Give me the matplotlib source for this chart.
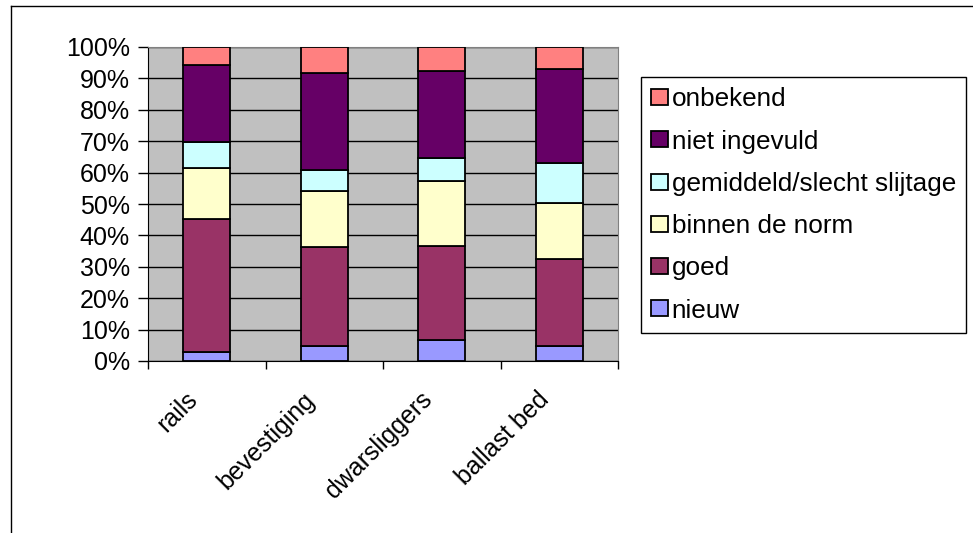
import matplotlib
matplotlib.use("Agg")
import matplotlib.pyplot as plt
from matplotlib.lines import Line2D
from matplotlib.transforms import ScaledTranslation
from matplotlib.ticker import FixedLocator, PercentFormatter
import numpy as np

plt.rcParams['font.family'] = ['Liberation Sans', 'DejaVu Sans']

categories = ["rails", "bevestiging", "dwarsliggers", "ballast bed"]
series = ["nieuw", "goed", "binnen de norm", "gemiddeld/slecht slijtage",
          "niet ingevuld", "onbekend"]
# percentages per category, stacked bottom to top
nieuw = [3.0, 4.8, 6.8, 4.8]
goed = [42.2, 31.4, 29.9, 27.6]
binnen_de_norm = [16.4, 17.8, 20.5, 17.9]
gemiddeld_slecht = [8.3, 6.9, 7.6, 12.6]
niet_ingevuld = [24.3, 30.7, 27.4, 30.0]
onbekend = [5.8, 8.4, 7.8, 7.1]
colors = ["#9999FF", "#993366", "#FFFFCC", "#CCFFFF", "#660066", "#FF8080"]

values = [nieuw, goed, binnen_de_norm, gemiddeld_slecht, niet_ingevuld, onbekend]

W, H = 973, 533
fs = 18
fig = plt.figure(figsize=(W / 100, H / 100), dpi=100)
ax = fig.add_axes([148 / W, 1 - 361 / H, 470 / W, 314 / H])
ax.set_facecolor("#C0C0C0")

x = np.arange(len(categories))
bottom = np.zeros(len(categories))
handles = []
for name, vals, col in zip(series, values, colors):
    vals = np.array(vals)
    b = ax.bar(x, vals, 0.4, bottom=bottom, color=col, edgecolor="black",
               linewidth=1.3, label=name, zorder=3)
    bottom += vals
    handles.append(b)

ax.set_xlim(-0.5, 3.5)
ax.set_ylim(0, 100)
ax.yaxis.set_major_locator(FixedLocator(np.arange(0, 101, 10)))
ax.yaxis.set_major_formatter(PercentFormatter(decimals=0))
ax.grid(axis="y", color="black", linewidth=1, zorder=1)
ax.tick_params(axis="y", direction="out", length=7, width=1, labelsize=fs, pad=6)

ax.set_xticks(x)
ax.set_xticklabels(categories, rotation=45, ha="right", va="top",
                   rotation_mode="anchor", fontsize=fs)
ax.tick_params(axis="x", which="major", length=0, pad=22)
shift = ScaledTranslation(-0.22, 0.04, fig.dpi_scale_trans)
for lab in ax.get_xticklabels():
    lab.set_transform(lab.get_transform() + shift)
ax.set_xticks(np.arange(-0.5, 4, 1), minor=True)
ax.tick_params(axis="x", which="minor", direction="out", length=6, width=1)

for s in ["top", "right"]:
    ax.spines[s].set_color("#808080")
for s in ["left", "bottom"]:
    ax.spines[s].set_color("black")

leg = fig.legend(handles[::-1], series[::-1], loc="upper left",
                 bbox_to_anchor=(640.7 / W, 1 - 77.3 / H), borderaxespad=0,
                 fontsize=18.8, frameon=True, fancybox=False, framealpha=1,
                 edgecolor="black", handlelength=0.65, handleheight=0.57,
                 handletextpad=0.15, labelspacing=0.7, borderpad=0.38)
leg.get_frame().set_linewidth(1)

# outer chart border
fig.add_artist(Line2D([10.5 / W, 10.5 / W], [0, 1 - 5.5 / H], color="black", lw=1))
fig.add_artist(Line2D([10.5 / W, 1], [1 - 5.5 / H, 1 - 5.5 / H], color="black", lw=1))

fig.savefig("out.png", dpi=100)
